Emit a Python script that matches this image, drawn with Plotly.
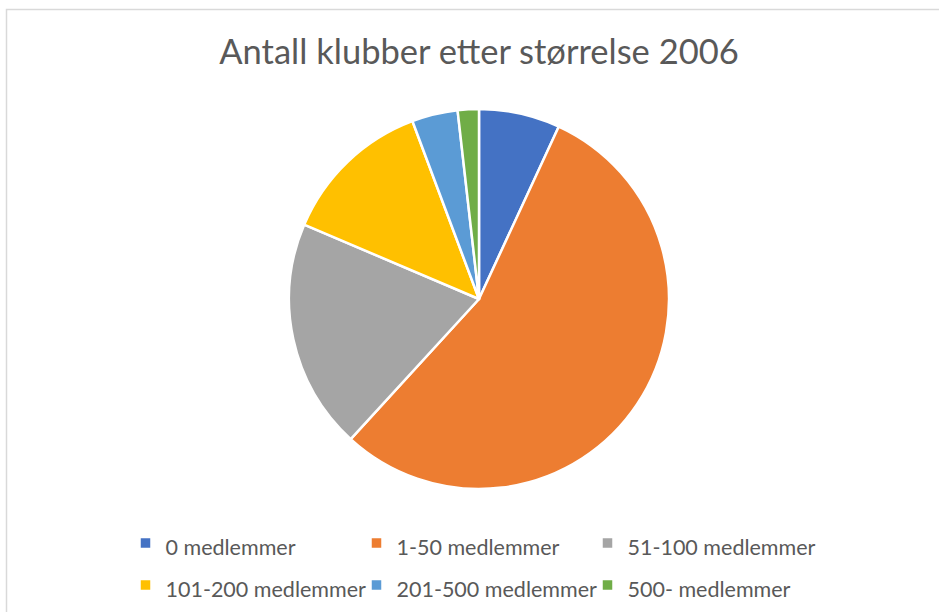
import plotly.graph_objects as go

# ── Data ──────────────────────────────────────────────────────────────────────
labels = [
    "0 medlemmer",
    "1-50 medlemmer",
    "51-100 medlemmer",
    "101-200 medlemmer",
    "201-500 medlemmer",
    "500- medlemmer",
]
clubs = [69, 549, 196, 129, 39, 18]   # share per size group

COLORS = ["#4472C4", "#ED7D31", "#A5A5A5", "#FFC000", "#5B9BD5", "#70AD47"]
TEXT = "#595959"
W, H = 939, 612
ML = MR = 60                      # side margins -> legend wraps after 3 entries
PW = W - ML - MR


def px(x):
    """pixel column -> paper x"""
    return (x - ML) / PW


# legend rows in the source are quite far apart: big legend font for the row
# height, smaller span for the visible text
legend_text = [f"<span style='font-size:21.5px'>{lab}</span>" for lab in labels]

fig = go.Figure(go.Pie(
    labels=legend_text,
    values=clubs,
    sort=False,
    direction="clockwise",
    rotation=0,
    marker=dict(colors=COLORS, line=dict(color="white", width=2.5)),
    textinfo="none",
    hoverinfo="label+value",
    domain=dict(x=[px(289), px(669)], y=[(H - 489) / H, (H - 109) / H]),
))

# chart frame (cut off on the right and bottom like the source)
fig.add_shape(
    type="rect", xref="paper", yref="paper",
    x0=px(6.5), x1=px(960), y0=-0.05, y1=(H - 9.5) / H,
    line=dict(color="#D9D9D9", width=1.5),
)

fig.update_layout(
    width=W, height=H,
    margin=dict(l=ML, r=MR, t=0, b=0),
    paper_bgcolor="white",
    font=dict(family="Lato, sans-serif", color=TEXT),
    title=dict(
        text="Antall klubber etter størrelse 2006",
        x=479 / W, xanchor="center", y=1 - 52 / H, yanchor="middle",
        font=dict(size=34.5, color=TEXT),
    ),
    showlegend=True,
    legend=dict(
        orientation="h",
        x=px(472), xanchor="center",
        y=1 - 517 / H, yanchor="top",
        entrywidth=186, entrywidthmode="pixels",
        font=dict(size=30, color=TEXT),
        itemwidth=30,
        traceorder="normal",
    ),
)

fig.write_html(
    "out.html",
    config={"displayModeBar": False},
    post_script="document.body.style.margin='0';",
)
